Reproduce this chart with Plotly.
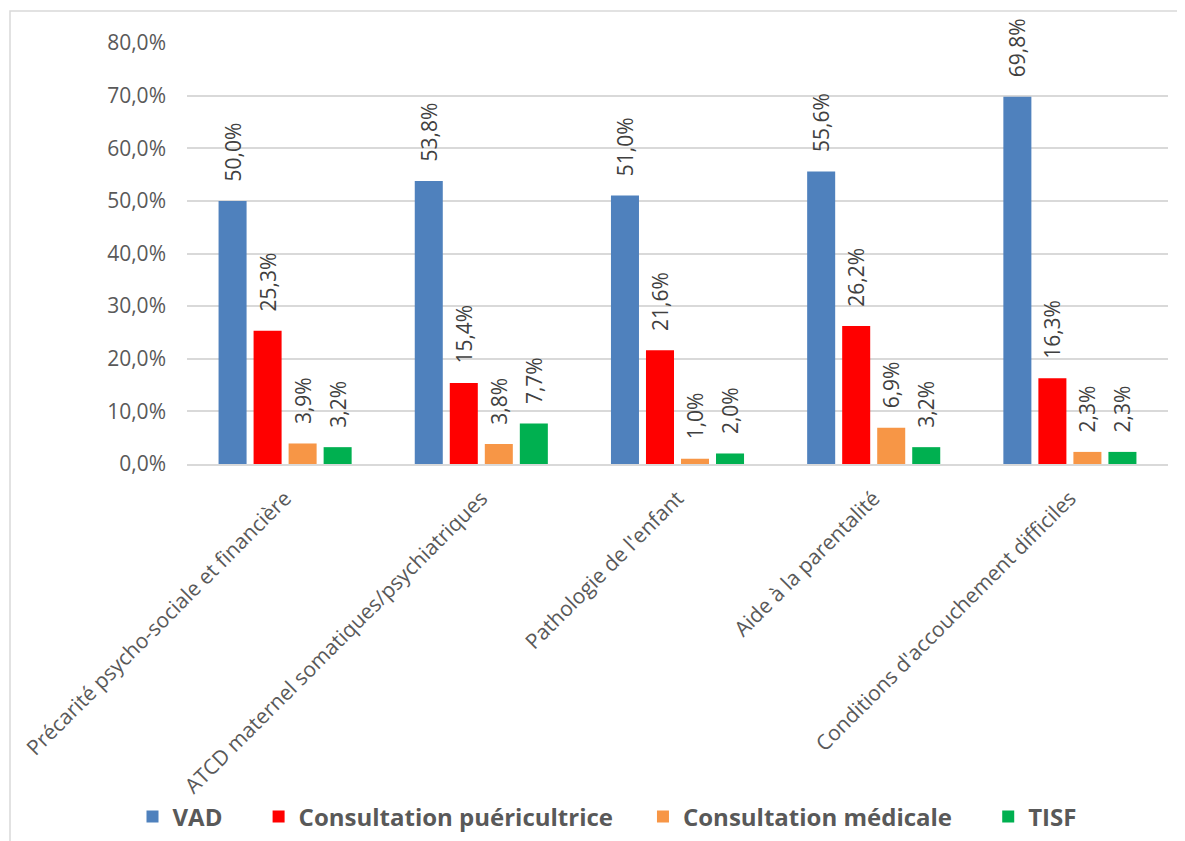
import plotly.graph_objects as go

categories = [
    "Précarité psycho-sociale et financière",
    "ATCD maternel somatiques/psychiatriques",
    "Pathologie de l'enfant",
    "Aide à la parentalité",
    "Conditions d'accouchement difficiles",
]
series_names = ["VAD", "Consultation puéricultrice", "Consultation médicale", "TISF"]
vad = [0.500, 0.538, 0.510, 0.556, 0.698]
puericultrice = [0.253, 0.154, 0.216, 0.262, 0.163]
medicale = [0.039, 0.038, 0.010, 0.069, 0.023]
tisf = [0.032, 0.077, 0.020, 0.032, 0.023]
y_ticks = [0, 0.1, 0.2, 0.3, 0.4, 0.5, 0.6, 0.7, 0.8]

values = [vad, puericultrice, medicale, tisf]
colors = ["#4f81bd", "#ff0000", "#f79646", "#00b050"]
pads = [5, 4, 5, 0]

fig = go.Figure()
for name, vals, col, p in zip(series_names, values, colors, pads):
    fig.add_trace(go.Bar(
        x=categories, y=vals, name=name + "\u00a0" * p,
        marker=dict(color=col, line=dict(width=0)),
        texttemplate="\u00a0\u00a0\u00a0%{y:.1%}",
        textposition="outside", textangle=-90, constraintext="none",
        textfont=dict(family="Open Sans", size=21, color="#404040"),
        cliponaxis=False,
    ))

OFF = 8  # page body margin
W, H = 1185, 841
L, T = 187 - OFF, 43 - OFF
R = W - (1168 - OFF)
B = H - (464 - OFF)
pw, ph = W - L - R, H - T - B

def px(x):
    return (x - OFF - L) / pw

def py(y):
    return (H - B - (y - OFF)) / ph

fig.update_layout(
    width=W, height=H,
    margin=dict(l=L, r=R, t=T, b=B, autoexpand=False),
    paper_bgcolor="white", plot_bgcolor="white",
    separators=", ",
    barmode="group", bargap=0.286, bargroupgap=0.2,
    font=dict(family="Open Sans", color="#595959"),
    showlegend=True,
    legend=dict(
        orientation="h", x=px(607), xanchor="center", y=py(817), yanchor="middle",
        font=dict(family="Open Sans", size=24, color="#595959", weight="bold"),
        itemclick=False,
    ),
    xaxis=dict(
        tickangle=-45, tickfont=dict(family="Open Sans", size=21, color="#595959"),
        showline=True, linecolor="#d9d9d9", linewidth=1.5, ticks="",
        ticklabelstandoff=12, automargin=False,
    ),
    yaxis=dict(
        range=[0, 0.8], tickvals=y_ticks, tickformat=".1%",
        tickfont=dict(family="Open Sans", size=21, color="#595959"),
        showgrid=True, gridcolor="#d9d9d9", gridwidth=1.5,
        zeroline=False, ticks="", ticklabelstandoff=20, automargin=False,
    ),
    shapes=[dict(type="rect", xref="paper", yref="paper",
                 x0=px(10), x1=px(1200), y0=py(860), y1=py(11),
                 line=dict(color="#d9d9d9", width=1.5), layer="below")],
)
fig.write_html("out.html")
